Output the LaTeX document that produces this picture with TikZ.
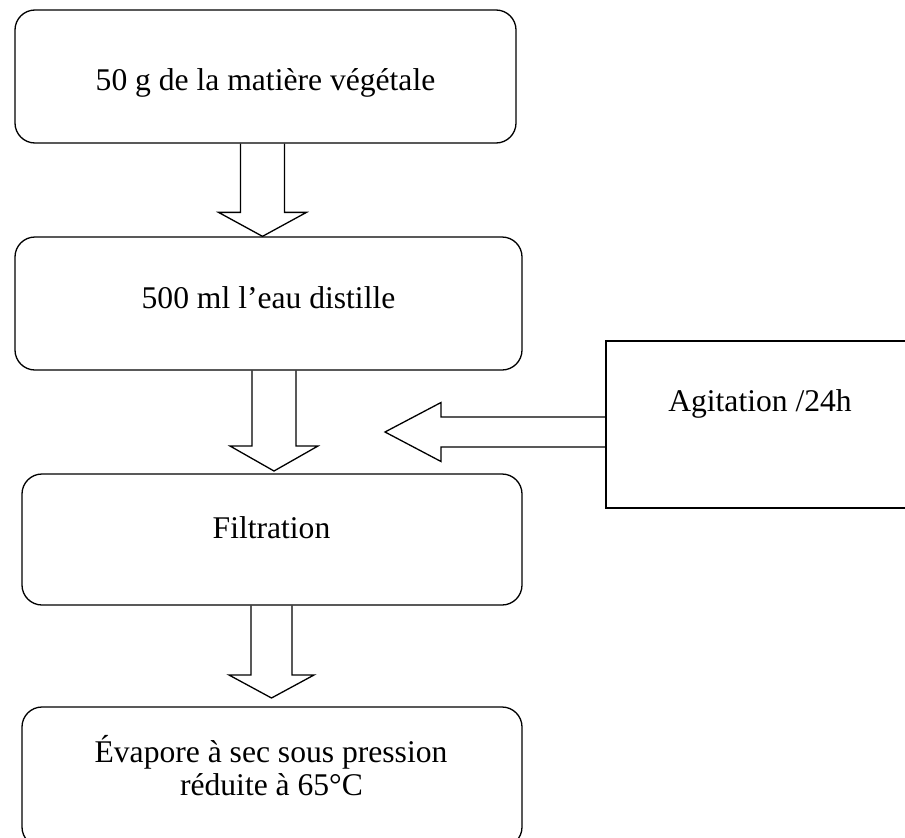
\documentclass[tikz,border=0pt]{standalone}
\usepackage{fontspec}
\setmainfont{Liberation Serif}
\usetikzlibrary{calc}
\newcommand\blkdown[5]{%
  \draw[blk] ($(#1)+(-#3,0)$) -- ($(#2)+(-#3,-#5)$) -- ($(#2)+(-#4,-#5)$) -- (#2)
    -- ($(#2)+(#4,-#5)$) -- ($(#2)+(#3,-#5)$) -- ($(#1)+(#3,0)$);}
\begin{document}
\begin{tikzpicture}[x=1pt,y=-1pt,
  box/.style={draw,line width=1.3pt,rounded corners=20pt,inner sep=0pt},
  sqbox/.style={draw,line width=1.8pt,inner sep=0pt},
  txt/.style={anchor=base,inner sep=0pt,font=\fontsize{31.6}{33}\selectfont},
  blk/.style={draw,line width=1.3pt,line join=miter}]
\useasboundingbox (0,0) rectangle (905,838);
\clip (0,0) rectangle (905,838);
% boxes
\node[box,minimum width=501pt,minimum height=133pt] (b1) at (265.5,76.5) {};
\node[box,minimum width=507pt,minimum height=133pt] (b2) at (268.5,303.5) {};
\node[box,minimum width=500pt,minimum height=131pt] (b3) at (272,539.5) {};
\node[box,minimum width=500pt,minimum height=140pt] (b4) at (272,777) {};
\node[sqbox,minimum width=308pt,minimum height=167pt] (ag) at (760,424.5) {};
% texts
\node[txt] (t1) at (265.5,90) {50 g de la matière végétale};
\node[txt] (t2) at (268.5,308) {500 ml l’eau distille};
\node[txt] (t3) at (271.5,538) {Filtration};
\node[txt] (t4a) at (271,762) {Évapore à sec sous pression};
\node[txt] (t4b) at (271.5,795) {réduite à 65°C};
\node[txt] (t5) at (760,411) {Agitation /24h};
% arrow anchor points
\coordinate (a1s) at (b1.south -| 262.5,0);
\coordinate (a1e) at (b2.north -| 262.5,0);
\coordinate (a2s) at (b2.south -| 274,0);
\coordinate (a2e) at (274,471);
\coordinate (a3s) at (b3.south -| 271.5,0);
\coordinate (a3e) at (271.5,698);
\coordinate (l0) at (ag.west |- 0,432);
\coordinate (l1) at (385,432);
% block arrows
\blkdown{a1s}{a1e}{22}{44}{24}
\blkdown{a2s}{a2e}{22}{44}{25}
\blkdown{a3s}{a3e}{20.5}{42.5}{23}
\draw[blk] ($(l0)+(0,-15)$) -- ($(l1)+(56,-15)$) -- ($(l1)+(56,-29.5)$) -- (l1)
  -- ($(l1)+(56,29.5)$) -- ($(l1)+(56,15)$) -- ($(l0)+(0,15)$);
\end{tikzpicture}
\end{document}
